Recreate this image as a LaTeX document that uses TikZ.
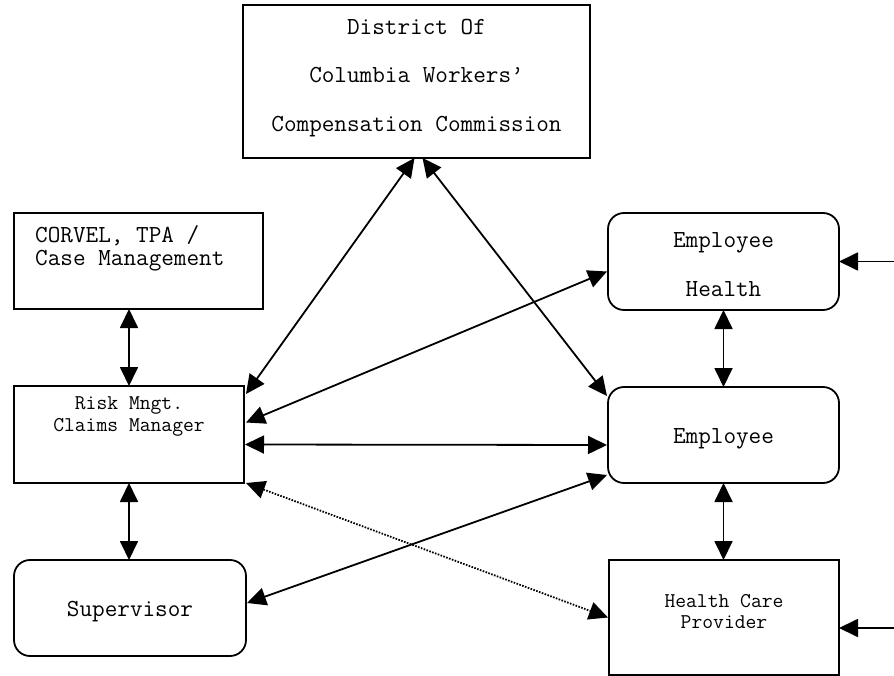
\documentclass[tikz,border=0pt]{standalone}
\usetikzlibrary{arrows.meta,calc}
\begin{document}
\begin{tikzpicture}[x=1pt,y=-1pt,
  box/.style={draw,line width=1.8pt,inner sep=0pt,outer sep=0pt},
  rbox/.style={box,rounded corners=16pt},
  lbl/.style={font=\fontsize{24.5}{24.5}\selectfont\ttfamily,anchor=base,inner sep=0pt},
  slbl/.style={font=\fontsize{21}{21}\selectfont\ttfamily,anchor=base,inner sep=0pt},
  tip/.tip={Triangle[length=19pt,width=18pt]},
  link/.style={line width=1.8pt,tip-tip},
  dotlink/.style={link,dash pattern=on 1.6pt off 1.4pt},
  inlink/.style={line width=1.8pt,-tip}]
\useasboundingbox (0,0) rectangle (894,676);
% boxes
\node[box,minimum width=347pt,minimum height=153pt] (dc) at (416.5,81.5) {};
\node[box,minimum width=249pt,minimum height=96pt] (corvel) at (138.5,261) {};
\node[box,minimum width=230pt,minimum height=97pt] (risk) at (129,434.5) {};
\node[rbox,minimum width=232pt,minimum height=96pt] (sup) at (130,608) {};
\node[rbox,minimum width=231pt,minimum height=97pt] (eh) at (723.5,261.5) {};
\node[rbox,minimum width=231pt,minimum height=96pt] (emp) at (723.5,435) {};
\node[box,minimum width=230pt,minimum height=115pt] (hcp) at (724,617.5) {};
% texts
\node[lbl] (dct1) at (416.5,35) {District Of};
\node[lbl] (dct2) at (416.5,83) {Columbia Workers’};
\node[lbl] (dct3) at (416.5,132) {Compensation Commission};
\node[lbl,anchor=base west] (cot1) at (35,243) {CORVEL, TPA /};
\node[lbl,anchor=base west] (cot2) at (35,266) {Case Management};
\node[slbl] (rkt1) at (129,409) {Risk Mngt.};
\node[slbl] (rkt2) at (129,431) {Claims Manager};
\node[lbl] (sut1) at (130,616) {Supervisor};
\node[lbl] (eht1) at (723.5,248) {Employee};
\node[lbl] (eht2) at (723.5,297) {Health};
\node[lbl] (emt1) at (723.5,443) {Employee};
\node[slbl] (hct1) at (724,607) {Health Care};
\node[slbl] (hct2) at (724,628) {Provider};
% free ends
\coordinate (extEH) at (894,261.5);
\coordinate (extHCP) at (894,628);
% connectors
\draw[link] (corvel.south -| risk.north) -- (risk.north);
\draw[link] (risk.south) -- (risk.south |- sup.north);
\draw[link] (eh.south) -- (emp.north);
\draw[link] (emp.south) -- (emp.south |- hcp.north);
\draw[link] ($(dc.south)+(-2,0)$) -- ($(risk.north east)+(2,8)$);
\draw[link] ($(dc.south)+(6,0)$) -- ($(emp.north west)+(-1,9)$);
\draw[link] ($(eh.west)+(-1,10)$) -- ($(risk.east)+(2,-12)$);
\draw[link] ($(risk.east)+(1,10)$) -- ($(emp.west)+(-1,10)$);
\draw[link] ($(sup.east)+(1,-5)$) -- ($(emp.west)+(-1,40)$);
\draw[dotlink] ($(risk.south east)+(2,0)$) -- ($(hcp.west)+(-1,0)$);
\draw[inlink] (extEH) -- (eh.east);
\draw[inlink] (extHCP) -- (hcp.east |- extHCP);
\end{tikzpicture}
\end{document}
